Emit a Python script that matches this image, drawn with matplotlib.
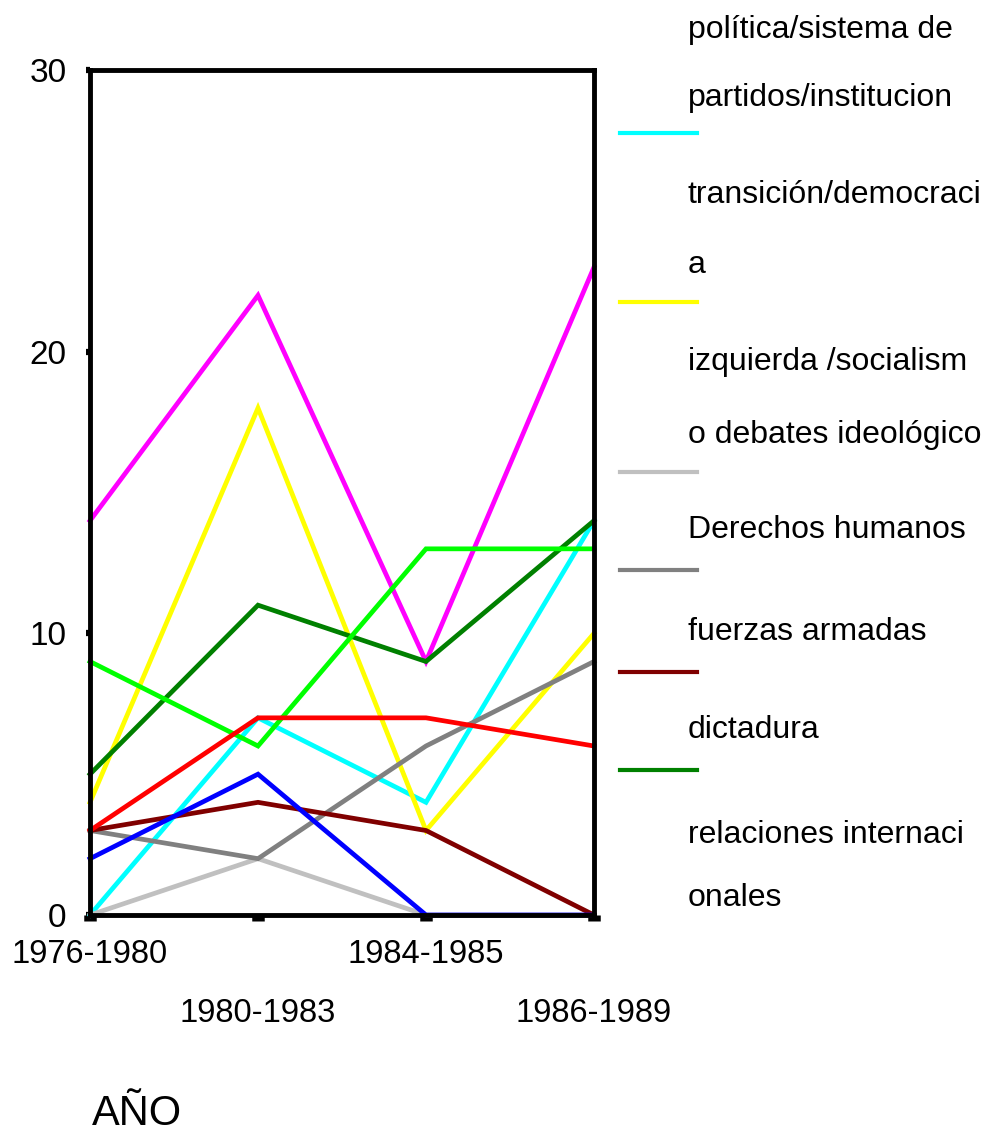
import matplotlib
matplotlib.use("Agg")
import matplotlib.pyplot as plt
from matplotlib import font_manager

# ---- data ----
periods = ["1976-1980", "1980-1983", "1984-1985", "1986-1989"]
magenta_series = [14, 22, 9, 23]
politica = [0, 7, 4, 14]
transicion = [4, 18, 3, 10]
izquierda = [0, 2, 0, 0]
derechos = [3, 2, 6, 9]
fuerzas = [3, 4, 3, 0]
dictadura = [5, 11, 9, 14]
relaciones = [9, 6, 13, 13]
red_series = [3, 7, 7, 6]
blue_series = [2, 5, 0, 0]
y_ticks = [0, 10, 20, 30]

legend_labels = [
    "política/sistema de\npartidos/institucion",
    "transición/democraci\na",
    "izquierda /socialism\no debates ideológico",
    "Derechos humanos",
    "fuerzas armadas",
    "dictadura",
    "relaciones internaci\nonales",
]

names = {f.name for f in font_manager.fontManager.ttflist}
narrow = "Liberation Sans Narrow" if "Liberation Sans Narrow" in names else "Liberation Sans"
regular = "Liberation Sans"
xsize = 27 if narrow == "Liberation Sans Narrow" else 23.5
asize = 34 if narrow == "Liberation Sans Narrow" else 30

fig = plt.figure(figsize=(9.98, 11.42), dpi=100)
ax = fig.add_axes([90/998, 1-915/1142, (594-90)/998, (915-70)/1142])

x = list(range(len(periods)))
series = [
    (magenta_series, "#FF00FF"),
    (politica, "#00FFFF"),
    (transicion, "#FFFF00"),
    (izquierda, "#C0C0C0"),
    (derechos, "#808080"),
    (fuerzas, "#800000"),
    (dictadura, "#008000"),
    (relaciones, "#00FF00"),
    (red_series, "#FF0000"),
    (blue_series, "#0000FF"),
]
for vals, col in series:
    ax.plot(x, vals, color=col, lw=3.4, solid_joinstyle="miter", clip_on=False)

ax.set_xlim(0, 3)
ax.set_ylim(0, 30)
for s in ax.spines.values():
    s.set_linewidth(3.5)
    s.set_color("black")
    s.set_zorder(5)

ax.set_yticks(y_ticks)
ax.set_yticklabels([str(t) for t in y_ticks], fontfamily=regular, fontsize=24)
ax.tick_params(axis="y", length=3, width=4.5, pad=14, direction="out")
ax.set_xticks(x)
ax.set_xticklabels([])
ax.tick_params(axis="x", length=4, width=9, direction="out")

# staggered x labels
for i, lab in enumerate(periods):
    yy = -0.047 if i % 2 == 0 else -0.116
    ax.text(i, yy, lab, transform=ax.get_xaxis_transform(), fontfamily=narrow,
            fontsize=xsize, ha="center", va="center")

fig.text(92/998, 1-1114/1142, "AÑO", fontfamily=narrow, fontsize=asize,
         ha="left", va="center")

# legend (manual)
legend_colors = ["#00FFFF", "#FFFF00", "#C0C0C0", "#808080", "#800000", "#008000", "#00FF00"]
text_rows = [(30, 98), (195, 265), (362, 435), (530,), (632,), (730,), (835, 898)]
swatch_rows = [133, 302, 472, 570, 672, 770, None]
for lab, col, rows, sw in zip(legend_labels, legend_colors, text_rows, swatch_rows):
    for line, yy in zip(lab.split("\n"), rows):
        fig.text(688/998, 1-yy/1142, line, fontfamily=regular, fontsize=23,
                 ha="left", va="center")
    if sw is not None:
        fig.add_artist(plt.Line2D([620/998, 697/998], [1-sw/1142, 1-sw/1142],
                                  color=col, lw=3, transform=fig.transFigure))

fig.savefig("out.png", dpi=100, facecolor="white")
